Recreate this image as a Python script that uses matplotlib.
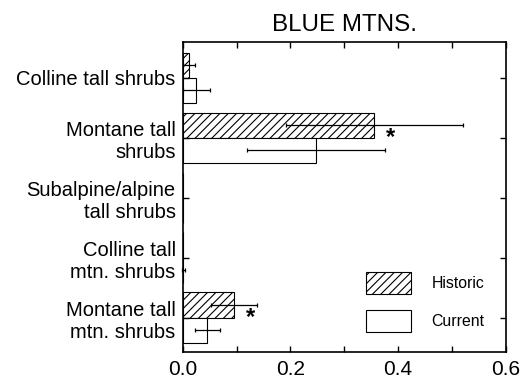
import matplotlib
matplotlib.use("Agg")
import matplotlib.pyplot as plt
from matplotlib.ticker import MultipleLocator, FuncFormatter
import numpy as np

plt.rcParams['font.family'] = ['Liberation Sans', 'DejaVu Sans']
plt.rcParams['hatch.linewidth'] = 0.8

# data
categories = [
    "Colline tall shrubs",
    "Montane tall\nshrubs",
    "Subalpine/alpine\ntall shrubs",
    "Colline tall\nmtn. shrubs",
    "Montane tall\nmtn. shrubs",
]
historic = [0.012, 0.356, 0.0, 0.0, 0.095]
historic_err = [0.011, 0.165, 0.0, 0.0, 0.043]
current = [0.025, 0.248, 0.0, 0.001, 0.046]
current_err = [0.025, 0.128, 0.0, 0.003, 0.024]
significant = [False, True, False, False, True]

fig = plt.figure(figsize=(5.23, 3.81), dpi=100)
ax = fig.add_axes([0.3493, 0.0769, 0.6176, 0.8136])

y = np.arange(len(categories))
h = 0.417

ax.barh(y - h / 2, historic, height=h, color='white', edgecolor='black',
        hatch='////', linewidth=0.8, label='Historic')
ax.barh(y + h / 2, current, height=h, color='white', edgecolor='black',
        linewidth=0.8, label='Current')

# error bars only where there is an error value
for vals, errs, off in [(historic, historic_err, -h / 2), (current, current_err, h / 2)]:
    idx = [i for i in range(len(vals)) if errs[i] > 0]
    ax.errorbar([vals[i] for i in idx], [y[i] + off for i in idx],
                xerr=[errs[i] for i in idx], fmt='none', ecolor='black',
                elinewidth=0.9, capsize=1.5, capthick=0.9, clip_on=False)

for i, sig in enumerate(significant):
    if sig:
        ax.text(historic[i] + 0.022, y[i] - 0.0, '*', fontsize=17,
                fontweight='bold', ha='left', va='center')

ax.set_xlim(0, 0.6)
ax.set_ylim(4.57, -0.597)
ax.set_yticks(y)
ax.set_yticklabels(categories, fontsize=14.5)
ax.xaxis.set_major_locator(MultipleLocator(0.1))
ax.xaxis.set_major_formatter(FuncFormatter(
    lambda v, p: f"{v:.1f}" if round(v * 10) % 2 == 0 else ""))
ax.tick_params(axis='x', labelsize=15, pad=6)
ax.tick_params(direction='in', length=4, width=1, top=True, right=True)
ax.tick_params(axis='y', pad=5)
for s in ax.spines.values():
    s.set_linewidth(1.2)

ax.set_title("BLUE MTNS.", fontsize=17.4, pad=8)

ax.legend(loc='lower left', bbox_to_anchor=(0.5675, 0.065), frameon=False,
          fontsize=11.4, handlelength=2.85, handleheight=1.75,
          handletextpad=1.3, labelspacing=0.97, borderpad=0, borderaxespad=0)

plt.savefig('out.png', dpi=100)
